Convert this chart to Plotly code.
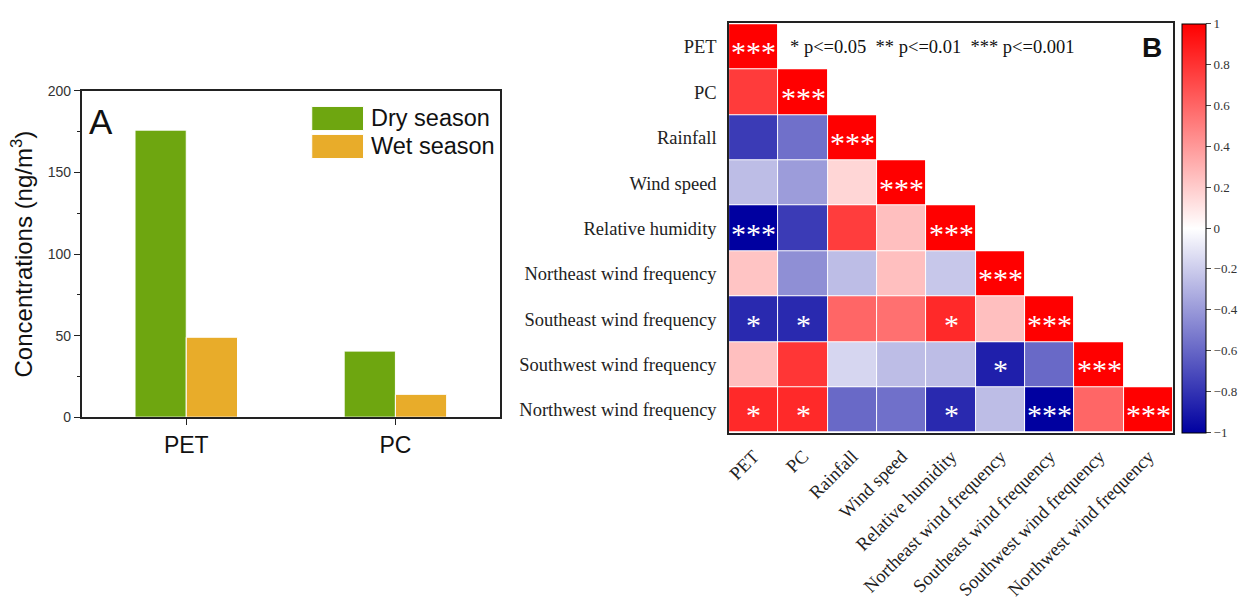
import plotly.graph_objects as go

# ---------------- Panel A data ----------------
materials = ["PET", "PC"]
seasons = ["Dry season", "Wet season"]
dry_values = [176, 40.5]
wet_values = [49, 14]
season_colors = ["#6EA610", "#E8AC2A"]

# ---------------- Panel B data ----------------
variables = ["PET", "PC", "Rainfall", "Wind speed", "Relative humidity",
             "Northeast wind frequency", "Southeast wind frequency",
             "Southwest wind frequency", "Northwest wind frequency"]
# lower-triangle correlation matrix (row i, columns 0..i)
corr_rows = [
    [1.0],
    [0.77, 1.0],
    [-0.77, -0.56, 1.0],
    [-0.26, -0.39, 0.16, 1.0],
    [-1.0, -0.77, 0.76, 0.25, 1.0],
    [0.23, -0.44, -0.26, 0.25, -0.22, 1.0],
    [-0.84, -0.84, 0.60, 0.56, 0.84, 0.25, 1.0],
    [0.25, 0.79, -0.16, -0.26, -0.26, -0.88, -0.59, 1.0],
    [0.84, 0.84, -0.59, -0.56, -0.84, -0.26, -1.0, 0.60, 1.0],
]
sig_rows = [
    ["***"],
    ["", "***"],
    ["", "", "***"],
    ["", "", "", "***"],
    ["***", "", "", "", "***"],
    ["", "", "", "", "", "***"],
    ["*", "*", "", "", "*", "", "***"],
    ["", "", "", "", "", "*", "", "***"],
    ["*", "*", "", "", "*", "", "***", "", "***"],
]
colorbar_ticks = [1, 0.8, 0.6, 0.4, 0.2, 0, -0.2, -0.4, -0.6, -0.8, -1]
sig_legend = "* p<=0.05  ** p<=0.01  *** p<=0.001"

n = len(variables)
z = [[(corr_rows[i][j] if j <= i else None) for j in range(n)] for i in range(n)]

W, H = 1239, 600
def px(x): return x / W
def py(y): return 1 - y / H

fig = go.Figure()

# Panel A bars
for name, vals, col in zip(seasons, [dry_values, wet_values], season_colors):
    fig.add_trace(go.Bar(x=materials, y=vals, name=name, marker_color=col,
                         marker_line_color="white", marker_line_width=1,
                         showlegend=False, xaxis="x", yaxis="y"))

# Panel B heatmap
fig.add_trace(go.Heatmap(
    z=z, x=variables, y=variables,
    colorscale=[[0, "#0000A0"], [0.5, "#FFFFFF"], [1, "#FF0000"]],
    zmin=-1, zmax=1, xgap=1, ygap=1, hoverongaps=False,
    xaxis="x2", yaxis="y2",
    colorbar=dict(x=px(1184), xanchor="left", thickness=24, thicknessmode="pixels",
                  len=(440 - 16) / H, y=py(228), yanchor="middle", ypad=0, xpad=0,
                  outlinecolor="black", outlinewidth=1,
                  tickvals=colorbar_ticks, ticks="outside", ticklen=5,
                  tickfont=dict(size=13, family="Liberation Serif", color="#333"))
))

# significance stars, placed on the heatmap's category axes
for i in range(n):
    for j in range(i + 1):
        s = sig_rows[i][j]
        if s:
            fig.add_annotation(xref="x2", yref="y2", x=variables[j], y=variables[i],
                               text=s, showarrow=False, yshift=-5,
                               font=dict(family="Liberation Serif", size=30, color="white"))

fig.update_layout(
    autosize=True, margin=dict(l=0, r=0, t=0, b=0),
    paper_bgcolor="white", plot_bgcolor="white",
    bargap=0.51, bargroupgap=0,
    xaxis=dict(domain=[px(79), px(499)], range=[-0.5, 1.5], showline=True,
               linecolor="#222", linewidth=1.5, mirror=True, ticks="outside",
               ticklen=6, tickcolor="#222",
               tickfont=dict(family="Liberation Sans", size=23, color="#111")),
    yaxis=dict(domain=[py(424), py(86)], range=[0, 200], showline=True,
               linecolor="#222", linewidth=1.5, mirror=True, ticks="outside",
               ticklen=6, tickcolor="#222", tickvals=[0, 50, 100, 150, 200],
               minor=dict(ticks="outside", ticklen=3, dtick=25, tickcolor="#222"),
               showgrid=False, zeroline=False,
               tickfont=dict(family="Liberation Sans", size=14, color="#333"),
               title=dict(text="Concentrations (ng/m<sup>3</sup>)", standoff=8,
                          font=dict(family="Liberation Sans", size=24, color="#111"))),
    xaxis2=dict(domain=[px(729), px(1175)], showline=True, linecolor="#222",
                linewidth=1.5, mirror=True, tickangle=-45, ticks="",
                showgrid=False, zeroline=False, anchor="y2", ticklabelstandoff=4,
                tickfont=dict(family="Liberation Serif", size=18.5, color="#222")),
    yaxis2=dict(domain=[py(440), py(16)], showline=True, linecolor="#222",
                linewidth=1.5, mirror=True, autorange="reversed", ticks="",
                showgrid=False, zeroline=False, anchor="x2", ticklabelstandoff=7,
                tickfont=dict(family="Liberation Serif", size=18.5, color="#222")),
)

# Legend for panel A (custom swatches)
sw_y = [(102, 127), (131, 156)]
for (y0, y1), name, col in zip(sw_y, seasons, season_colors):
    fig.add_shape(type="rect", xref="paper", yref="paper", x0=px(310), x1=px(362),
                  y0=py(y1), y1=py(y0), fillcolor=col, line=dict(color="white", width=1))
    fig.add_annotation(xref="paper", yref="paper", x=px(367), y=py((y0 + y1) / 2),
                       text=name, showarrow=False, xanchor="left", yanchor="middle",
                       font=dict(family="Liberation Sans", size=23.5, color="#111"))

fig.add_annotation(xref="paper", yref="paper", x=px(84), y=py(118), text="A",
                   showarrow=False, xanchor="left", yanchor="middle",
                   font=dict(family="Liberation Sans", size=35, color="#111"))
fig.add_annotation(xref="paper", yref="paper", x=px(788), y=py(40), text=sig_legend,
                   showarrow=False, xanchor="left", yanchor="middle",
                   font=dict(family="Liberation Serif", size=18.5, color="#111"))
fig.add_annotation(xref="paper", yref="paper", x=px(1154), y=py(41), text="<b>B</b>",
                   showarrow=False, xanchor="center", yanchor="middle",
                   font=dict(family="Liberation Sans", size=28, color="#111"))

fig.write_html("out.html", default_width="100vw", default_height="100vh",
               config={"displayModeBar": False},
               post_script="document.body.style.margin='0';document.body.style.overflow='hidden';"
                           "Plotly.Plots.resize(document.getElementById('{plot_id}'));")
